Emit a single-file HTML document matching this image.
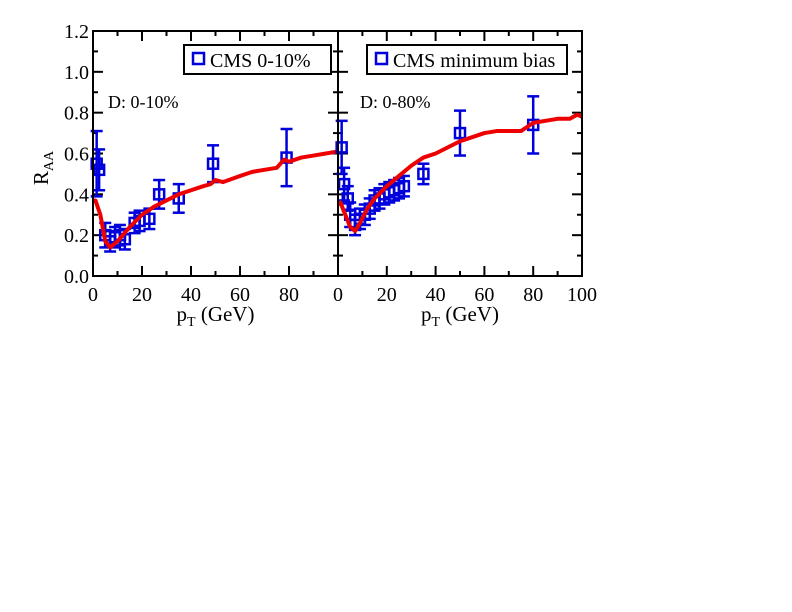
<!DOCTYPE html>
<html><head><meta charset="utf-8"><style>
body{margin:0;background:#fff}
svg{display:block;font-family:"Liberation Serif",serif}
</style></head><body>
<svg id="c" width="792" height="612"></svg>
<script>
const xTicks=[0,20,40,60,80,100];
const yTicks=[0.0,0.2,0.4,0.6,0.8,1.0,1.2];
const leftDataX=[1.5,2.5,5,7,9,11,13,17,19,23,27,35,49,79];
const leftDataY=[0.55,0.52,0.2,0.17,0.19,0.2,0.18,0.26,0.27,0.28,0.4,0.38,0.55,0.58];
const leftDataErr=[0.16,0.1,0.06,0.05,0.05,0.05,0.05,0.05,0.05,0.05,0.07,0.07,0.09,0.14];
const rightDataX=[1.5,2.5,4,5,7,9,11,13,15,17,19,21,23,25,27,35,50,80];
const rightDataY=[0.63,0.45,0.38,0.3,0.25,0.28,0.3,0.33,0.37,0.38,0.4,0.41,0.42,0.43,0.44,0.5,0.7,0.74];
const rightDataErr=[0.13,0.08,0.06,0.06,0.05,0.05,0.05,0.05,0.05,0.05,0.05,0.05,0.05,0.05,0.05,0.05,0.11,0.14];
const leftCurveX=[0,1,3,5,7,10,15,20,25,30,35,40,45,48,50,53,60,65,70,75,78,80,85,90,95,100];
const leftCurveY=[0.37,0.37,0.3,0.17,0.14,0.17,0.24,0.3,0.34,0.37,0.4,0.42,0.44,0.45,0.47,0.46,0.49,0.51,0.52,0.53,0.57,0.56,0.58,0.59,0.6,0.61];
const rightCurveX=[0,1,3,5,7,9,12,15,20,25,30,35,40,45,50,55,60,65,70,75,80,85,90,95,98,100];
const rightCurveY=[0.35,0.36,0.3,0.24,0.22,0.26,0.33,0.38,0.44,0.49,0.54,0.58,0.6,0.63,0.66,0.68,0.7,0.71,0.71,0.71,0.75,0.76,0.77,0.77,0.79,0.78];
const NS="http://www.w3.org/2000/svg";
const svg=document.getElementById('c');
function mk(t,a,p){const e=document.createElementNS(NS,t);for(const k in a)e.setAttribute(k,a[k]);(p||svg).appendChild(e);return e;}
const T=31,B=276;
function ys(v){return B-(v/1.2)*(B-T);}
function panel(x0,x1,name,dx,dy,de,cx,cy,legend,label,showY,lx,lw){
  const g=mk('g',{});
  
  
  const xs=v=>x0+(v/100)*(x1-x0);
  for(let v=0;v<=100;v+=10){const L=v%20==0?10:5;
    mk('line',{x1:xs(v),x2:xs(v),y1:B,y2:B-L,stroke:'#000','stroke-width':2},g);
    mk('line',{x1:xs(v),x2:xs(v),y1:T,y2:T+L,stroke:'#000','stroke-width':2},g);}
  for(let i=0;i<=12;i++){const v=i/10,L=i%2==0?10:5;
    mk('line',{x1:x0,x2:x0+L,y1:ys(v),y2:ys(v),stroke:'#000','stroke-width':2},g);
    mk('line',{x1:x1,x2:x1-L,y1:ys(v),y2:ys(v),stroke:'#000','stroke-width':2},g);}
  xTicks.forEach((v,i)=>{ if(name==='left-panel'&&v===100)return;
    const t=mk('text',{x:xs(v),y:B+25,'text-anchor':'middle','font-size':20},g);t.textContent=v;
    });
  if(showY)yTicks.forEach(v=>{const t=mk('text',{x:x0-4,y:ys(v)+7,'text-anchor':'end','font-size':20},g);t.textContent=v.toFixed(1);
    });
  const xt=mk('text',{x:(x0+x1)/2,y:B+45,'text-anchor':'middle','font-size':21},g);
  xt.innerHTML='p<tspan font-size="14" dy="5">T</tspan><tspan dy="-5"> (GeV)</tspan>';
  
  dx.forEach((v,i)=>{const X=xs(v),Y=ys(dy[i]),e=de[i];
    const p=mk('g',{stroke:'#0000dd','stroke-width':2.5,fill:'none'},g);
    
    mk('line',{x1:X,x2:X,y1:ys(dy[i]+e),y2:ys(dy[i]-e)},p);
    mk('line',{x1:X-6,x2:X+6,y1:ys(dy[i]+e),y2:ys(dy[i]+e)},p);
    mk('line',{x1:X-6,x2:X+6,y1:ys(dy[i]-e),y2:ys(dy[i]-e)},p);
    mk('rect',{x:X-5,y:Y-5,width:10,height:10},p);});
  const cl=mk('polyline',{points:cx.map((v,i)=>xs(v)+','+ys(cy[i])).join(' '),fill:'none',stroke:'#ee0000','stroke-width':4,'stroke-linejoin':'round'},g);
  
  mk('rect',{x:x0,y:T,width:x1-x0,height:B-T,fill:'none',stroke:'#000','stroke-width':2},g);
  const lg=mk('g',{},g);
  mk('rect',{x:lx,y:45,width:lw,height:29,fill:'#fff',stroke:'#000','stroke-width':2},lg);
  mk('rect',{x:lx+9,y:53,width:11,height:11,fill:'none',stroke:'#0000dd','stroke-width':2.5},lg);
  const lt=mk('text',{x:lx+26,y:67,'font-size':20},lg);lt.textContent=legend;
  const ann=mk('text',{x:x0+(name==='left-panel'?15:22),y:108,'font-size':18},g);ann.textContent=label;
  
}
panel(93,338,'left-panel',leftDataX,leftDataY,leftDataErr,leftCurveX,leftCurveY,'CMS 0-10%','D: 0-10%',true,184,147);
panel(338,582,'right-panel',rightDataX,rightDataY,rightDataErr,rightCurveX,rightCurveY,'CMS minimum bias','D: 0-80%',false,367,200);
const yt=mk('text',{x:0,y:0,'font-size':21,transform:'translate(48,168) rotate(-90)','text-anchor':'middle'});
yt.innerHTML='R<tspan font-size="14" dy="5">AA</tspan>';

</script>
</body></html>
